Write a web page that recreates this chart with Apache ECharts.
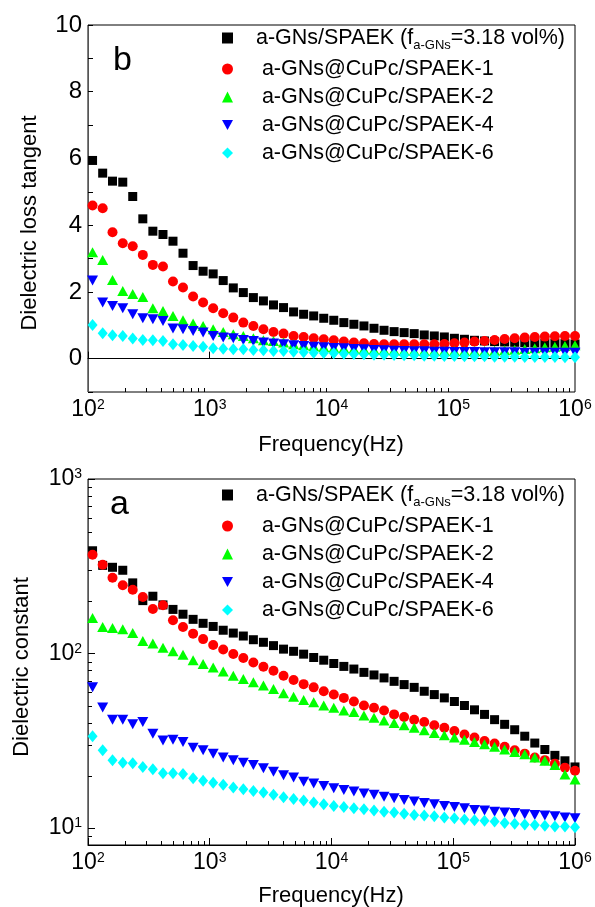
<!DOCTYPE html>
<html><head><meta charset="utf-8">
<script src="https://cdn.jsdelivr.net/npm/echarts@6/dist/echarts.min.js"></script>
<style>html,body{margin:0;padding:0;background:#fff}#c{width:595px;height:907px}</style>
</head><body><div id="c"></div>
<script>
const FONT = 'Liberation Sans, Arial, sans-serif';
const NAMES = ['a-GNs/SPAEK (fa-GNs=3.18 vol%)', ' a-GNs@CuPc/SPAEK-1', ' a-GNs@CuPc/SPAEK-2', ' a-GNs@CuPc/SPAEK-4', ' a-GNs@CuPc/SPAEK-6'];
const COLORS = ['#000000', '#ff0000', '#00ff00', '#0000ff', '#00ffff'];
const SYMBOLS = ['rect', 'circle', 'triangle', 'path://M0,0 L10,0 L5,9 Z', 'diamond'];
const SYMSIZE = [9, 10, [11, 10], [11, 10], [10, 12]];

// frequency (Hz)
const FREQ = [109,132,159,193,233,282,341,413,499,603,730,882,1067,1290,1561,1887,2282,2760,3338,4037,4882,5904,7140,8635,10440,12630,15270,18470,22340,27010,32670,39500,47770,57780,69870,84500,102200,123600,149400,180700,218500,264300,319600,386600,467500,565400,683700,826900,1000000];

// panel b: dielectric loss tangent
const LT_GNS = [5.94,5.56,5.32,5.29,4.86,4.19,3.82,3.72,3.52,3.16,2.79,2.62,2.54,2.34,2.12,1.98,1.83,1.73,1.61,1.53,1.40,1.33,1.28,1.21,1.15,1.08,1.03,0.98,0.91,0.85,0.81,0.78,0.75,0.71,0.68,0.65,0.61,0.58,0.55,0.53,0.51,0.50,0.49,0.48,0.47,0.46,0.46,0.45,0.44];
const LT_1 = [4.59,4.51,3.79,3.46,3.37,3.11,2.81,2.76,2.31,2.13,1.86,1.68,1.51,1.36,1.23,1.08,0.98,0.88,0.80,0.75,0.68,0.65,0.61,0.58,0.55,0.51,0.48,0.46,0.44,0.43,0.43,0.43,0.43,0.43,0.43,0.44,0.46,0.48,0.51,0.53,0.56,0.59,0.61,0.63,0.65,0.66,0.67,0.68,0.68];
const LT_2 = [3.19,2.96,2.36,2.03,1.94,1.85,1.51,1.43,1.28,1.15,1.05,0.98,0.88,0.80,0.73,0.68,0.61,0.55,0.53,0.48,0.43,0.40,0.37,0.35,0.33,0.31,0.30,0.28,0.27,0.26,0.25,0.24,0.24,0.23,0.23,0.23,0.23,0.23,0.23,0.23,0.24,0.25,0.27,0.29,0.31,0.34,0.36,0.38,0.40];
const LT_4 = [2.34,1.68,1.58,1.51,1.33,1.21,1.18,1.13,0.90,0.88,0.83,0.78,0.68,0.63,0.61,0.56,0.53,0.48,0.45,0.43,0.40,0.38,0.36,0.34,0.32,0.31,0.29,0.28,0.26,0.25,0.24,0.23,0.22,0.22,0.21,0.21,0.20,0.20,0.20,0.19,0.19,0.19,0.19,0.18,0.18,0.18,0.18,0.18,0.18];
const LT_6 = [1.01,0.76,0.70,0.68,0.60,0.56,0.55,0.53,0.43,0.41,0.38,0.36,0.31,0.30,0.28,0.28,0.26,0.25,0.23,0.23,0.21,0.19,0.18,0.17,0.16,0.15,0.14,0.13,0.12,0.12,0.11,0.10,0.10,0.09,0.09,0.08,0.08,0.07,0.07,0.07,0.06,0.06,0.06,0.05,0.05,0.05,0.05,0.04,0.04];

// panel a: dielectric constant
const DC_GNS = [388,320,312,300,254,201,213,190,179,168,157,149,143,136,131,126,120,116,111,106,103,99.2,94.9,91.6,87.7,84.4,81.5,78.0,75.4,72.5,69.3,66.4,64.0,60.8,58.2,55.7,53.1,50.4,47.6,44.8,41.8,39.3,36.6,33.6,30.7,28.2,26.1,24.3,22.4];
const DC_1 = [368,323,272,246,232,211,180,189,155,142,130,121,112,105.5,99.3,94.2,88.9,84.0,79.7,74.6,70.6,66.8,64.0,60.8,58.2,55.7,53.1,50.4,48.9,47.2,44.8,43.3,41.8,40.5,38.8,37.6,36.0,34.4,33.0,31.5,30.5,29.2,27.9,26.7,25.4,24.5,23.4,22.2,21.3];
const DC_2 = [160,142,140,138,131,118,114,108,103,98.3,91.6,87.1,83.2,79.0,74.7,71.5,68.4,65.5,62.7,59.2,56.6,54.2,52.6,50.4,48.9,47.2,46.2,44.2,42.9,41.4,40.0,38.8,37.6,36.3,35.0,34.0,33.0,32.1,31.1,30.2,29.2,28.2,27.3,26.5,25.4,24.3,23.0,20.3,19.0];
const DC_4 = [64.0,49.0,41.8,41.8,39.3,40.5,34.7,31.8,32.1,31.1,28.9,27.9,26.7,25.4,24.5,23.7,23.0,22.0,21.0,20.1,19.5,18.4,18.0,17.4,16.9,16.5,16.2,15.8,15.5,15.1,14.8,14.5,14.2,13.9,13.7,13.4,13.2,13.0,12.7,12.6,12.4,12.3,12.2,12.0,11.9,11.8,11.7,11.5,11.4];
const DC_6 = [33.6,27.9,24.5,23.7,23.5,22.4,21.7,20.6,20.6,20.4,19.3,18.7,18.2,17.7,17.1,16.7,16.3,16.0,15.5,15.0,14.7,14.4,14.0,13.7,13.4,13.2,13.0,12.8,12.6,12.4,12.3,12.1,11.9,11.8,11.7,11.5,11.4,11.2,11.1,11.0,10.9,10.7,10.6,10.5,10.4,10.3,10.2,10.2,10.1];

const LT_SERIES = [LT_GNS, LT_1, LT_2, LT_4, LT_6];
const DC_SERIES = [DC_GNS, DC_1, DC_2, DC_4, DC_6];

// minor tick positions for log axes
const X_MINOR = [];
for (let d = 100; d < 1e6; d *= 10) for (let k = 2; k <= 9; k++) X_MINOR.push(d * k);
const Y_MINOR = [9];
for (let d = 10; d < 1000; d *= 10) for (let k = 2; k <= 9; k++) Y_MINOR.push(d * k);

const LT_YMIN = -1, LT_YMAX = 10;
const DC_YMIN = 8, DC_YMAX = 1000;
const X_MIN = 100, X_MAX = 1e6;

function powLabel(v) {
  const e = Math.log10(v);
  if (Math.abs(e - Math.round(e)) > 1e-6) return '';
  return '10{sup|' + Math.round(e) + '}';
}
const supRich = { sup: { fontSize: 14, fontFamily: FONT, color: '#000', verticalAlign: 'top', lineHeight: 14 } };

function xAxisCfg(gi) {
  return {
    type: 'log', logBase: 10, gridIndex: gi, min: X_MIN, max: X_MAX,
    axisLine: { lineStyle: { color: '#000', width: 1 } },
    axisTick: { inside: true, length: 7, lineStyle: { color: '#000' } },
    axisLabel: { formatter: powLabel, fontSize: 23, lineHeight: 23, fontFamily: FONT, color: '#000', margin: 6, rich: supRich },
    splitLine: { show: false }, minorTick: { show: false }
  };
}

const grids = [
  { left: 88, top: 25, width: 487, height: 367, show: true, borderColor: '#000', borderWidth: 1 },
  { left: 88, top: 479, width: 487, height: 366, show: true, borderColor: '#000', borderWidth: 1 }
];

const yAxes = [
  {
    type: 'value', gridIndex: 0, min: LT_YMIN, max: LT_YMAX, interval: 1,
    axisLine: { show: true, lineStyle: { color: '#555', width: 1 } },
    axisTick: { inside: true, length: 5, lineStyle: { color: '#000' } },
    axisLabel: { formatter: v => (v % 2 === 0 ? String(v) : ''), fontSize: 24, fontFamily: FONT, color: '#000', margin: 6 },
    splitLine: { show: false }
  },
  {
    type: 'log', logBase: 10, gridIndex: 1, min: DC_YMIN, max: DC_YMAX,
    axisLine: { show: true, lineStyle: { color: '#555', width: 1 } },
    axisTick: { inside: true, length: 7, lineStyle: { color: '#000' } },
    axisLabel: { formatter: powLabel, fontSize: 23, lineHeight: 23, fontFamily: FONT, color: '#000', margin: 6, rich: supRich },
    splitLine: { show: false }, minorTick: { show: false }
  }
];

const series = [];
function addPanel(gi, dataSets) {
  dataSets.forEach((vals, i) => {
    series.push({
      type: 'scatter', name: NAMES[i], xAxisIndex: gi, yAxisIndex: gi,
      symbol: SYMBOLS[i], symbolSize: SYMSIZE[i],
      itemStyle: { color: COLORS[i], opacity: 1 },
      data: FREQ.map((f, k) => [f, vals[k]]), z: 3 + i, silent: true
    });
  });
}
addPanel(0, LT_SERIES);
addPanel(1, DC_SERIES);

function xMinorSeries(gi, yBase) {
  return {
    type: 'custom', xAxisIndex: gi, yAxisIndex: gi, silent: true, clip: false, z: 10,
    data: X_MINOR.map(v => [v, yBase]),
    renderItem: (params, api) => {
      const p = api.coord([api.value(0), api.value(1)]);
      const x = Math.round(p[0]) + 0.5;
      return { type: 'line', shape: { x1: x, y1: p[1], x2: x, y2: p[1] - 4 }, style: { stroke: '#000', lineWidth: 1 } };
    }
  };
}
series.push(xMinorSeries(0, LT_YMIN));
series.push(xMinorSeries(1, DC_YMIN));
series.push({
  type: 'custom', xAxisIndex: 1, yAxisIndex: 1, silent: true, clip: false, z: 10,
  data: Y_MINOR.map(v => [X_MIN, v]),
  renderItem: (params, api) => {
    const p = api.coord([api.value(0), api.value(1)]);
    const y = Math.round(p[1]) + 0.5;
    return { type: 'line', shape: { x1: p[0], y1: y, x2: p[0] + 4, y2: y }, style: { stroke: '#000', lineWidth: 1 } };
  }
});

function legendCfg(top) {
  return {
    orient: 'vertical', left: 222, top: top, padding: 0, itemWidth: 11, itemHeight: 11, itemGap: 6,
    selectedMode: false, data: NAMES,
    formatter: n => (n === NAMES[0] ? '   a-GNs/SPAEK (f{sub|a-GNs}=3.18 vol%)' : '   ' + n),
    textStyle: {
      fontSize: 21.5, fontFamily: FONT, color: '#000', lineHeight: 22,
      rich: { sub: { fontSize: 13, fontFamily: FONT, color: '#000', verticalAlign: 'top', lineHeight: 2, padding: [12, 0, 0, 0] } }
    }
  };
}

const titleStyle = { fontSize: 22, fontFamily: FONT, fill: '#000' };
const graphic = [
  { type: 'text', left: 113, top: 44, style: { text: 'b', fontSize: 34, fontFamily: FONT, fill: '#000' } },
  { type: 'text', left: 110, top: 488, style: { text: 'a', fontSize: 34, fontFamily: FONT, fill: '#000' } },
  { type: 'text', x: 30, y: 223, rotation: Math.PI / 2, style: Object.assign({ text: 'Dielectric loss tangent', align: 'center', verticalAlign: 'middle' }, titleStyle) },
  { type: 'text', x: 22, y: 667, rotation: Math.PI / 2, style: Object.assign({ text: 'Dielectric constant', align: 'center', verticalAlign: 'middle' }, titleStyle) },
  { type: 'text', x: 331, y: 445, style: Object.assign({ text: 'Frequency(Hz)', align: 'center', verticalAlign: 'middle' }, titleStyle) },
  { type: 'text', x: 331, y: 896, style: Object.assign({ text: 'Frequency(Hz)', align: 'center', verticalAlign: 'middle' }, titleStyle) }
];

const chart = echarts.init(document.getElementById('c'), null, { renderer: 'canvas' });
chart.setOption({
  animation: false,
  backgroundColor: '#fff',
  grid: grids,
  xAxis: [xAxisCfg(0), xAxisCfg(1)],
  yAxis: yAxes,
  legend: [legendCfg(27), legendCfg(484)],
  series: series,
  graphic: graphic
});
</script></body></html>
